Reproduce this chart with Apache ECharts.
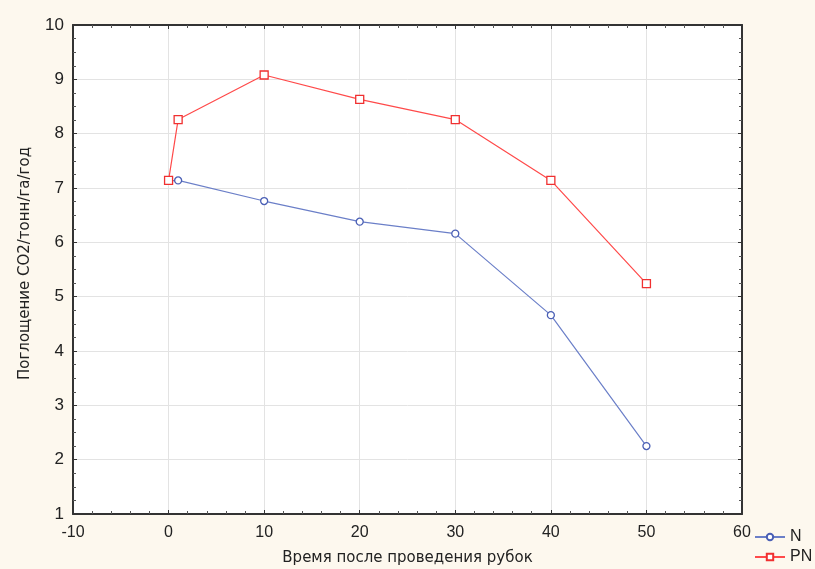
<!DOCTYPE html>
<html>
<head>
<meta charset="utf-8">
<script src="https://cdn.jsdelivr.net/npm/echarts@6/dist/echarts.min.js"></script>
<style>
html,body{margin:0;padding:0;background:#ffffff;}
#c{width:815px;height:569px;}
</style>
</head>
<body>
<div id="c"></div>
<script>
const xN = [0, 1, 10, 20, 30, 40, 50];
const yN = [7.13, 7.14, 6.76, 6.38, 6.16, 4.66, 2.25];
const xPN = [0, 1, 10, 20, 30, 40, 50];
const yPN = [7.14, 8.26, 9.08, 8.63, 8.26, 7.14, 5.24];
const seriesNames = ['N', 'PN'];
const xTitle = 'Время после проведения рубок';
const yTitle = 'Поглощение CO2/тонн/га/год';

const font = '"Liberation Sans", Arial, sans-serif';
const titleFont = '"DejaVu Sans", sans-serif';
const chart = echarts.init(document.getElementById('c'));
const axisLine = {show: true, onZero: false, lineStyle: {color: '#333', width: 2}};
const tick = {show: true, inside: true, length: 4, lineStyle: {color: '#333'}};
chart.setOption({
  animation: false,
  backgroundColor: '#fdf8ee',
  textStyle: {fontFamily: font},
  grid: {left: 73, right: 73, top: 25, bottom: 55, show: true, backgroundColor: '#ffffff', borderWidth: 0,
         containLabel: false, outerBoundsMode: 'none'},
  legend: {
    orient: 'vertical', left: 754, top: 529, itemGap: 4, itemWidth: 30, itemHeight: 8, padding: 0,
    textStyle: {fontSize: 16, color: '#222', fontFamily: font},
    data: seriesNames
  },
  xAxis: [{
    type: 'value', min: -10, max: 60, interval: 10,
    name: xTitle, nameLocation: 'middle', nameGap: 37,
    nameTextStyle: {fontSize: 15, color: '#222', fontFamily: titleFont},
    axisLine: axisLine, axisTick: tick,
    minorTick: {show: true, splitNumber: 5, length: 3, lineStyle: {color: '#555'}},
    axisLabel: {fontSize: 16, color: '#222', margin: 11},
    splitLine: {show: true, lineStyle: {color: '#e3e3e3', width: 1}}
  }, {
    type: 'value', position: 'top', min: -10, max: 60, interval: 10,
    axisLine: axisLine, axisTick: tick,
    minorTick: {show: true, splitNumber: 5, length: 3, lineStyle: {color: '#555'}},
    axisLabel: {show: false}, splitLine: {show: false}
  }],
  yAxis: [{
    type: 'value', min: 1, max: 10, interval: 1,
    name: yTitle, nameLocation: 'middle', nameGap: 40, nameRotate: 90,
    nameTextStyle: {fontSize: 15, color: '#222', fontFamily: titleFont, padding: [0, 0, 0, 12]},
    axisLine: axisLine, axisTick: tick,
    minorTick: {show: true, splitNumber: 4, length: 3, lineStyle: {color: '#555'}},
    axisLabel: {fontSize: 17, color: '#222', margin: 9},
    splitLine: {show: true, lineStyle: {color: '#e3e3e3', width: 1}}
  }, {
    type: 'value', position: 'right', min: 1, max: 10, interval: 1,
    axisLine: axisLine, axisTick: tick,
    minorTick: {show: true, splitNumber: 4, length: 3, lineStyle: {color: '#555'}},
    axisLabel: {show: false}, splitLine: {show: false}
  }],
  series: [{
    name: seriesNames[0], type: 'line',
    data: xN.map((x, i) => [x, yN[i]]),
    symbol: 'circle', symbolSize: 7,
    lineStyle: {color: '#6b7fc8', width: 1.2},
    itemStyle: {color: '#ffffff', borderColor: '#4a5fb5', borderWidth: 1.3},
    z: 3
  }, {
    name: seriesNames[1], type: 'line',
    data: xPN.map((x, i) => [x, yPN[i]]),
    symbol: 'rect', symbolSize: 8,
    lineStyle: {color: '#ff4a4a', width: 1.2},
    itemStyle: {color: '#ffffff', borderColor: '#f03030', borderWidth: 1.3},
    z: 4
  }]
});
</script>
</body>
</html>
